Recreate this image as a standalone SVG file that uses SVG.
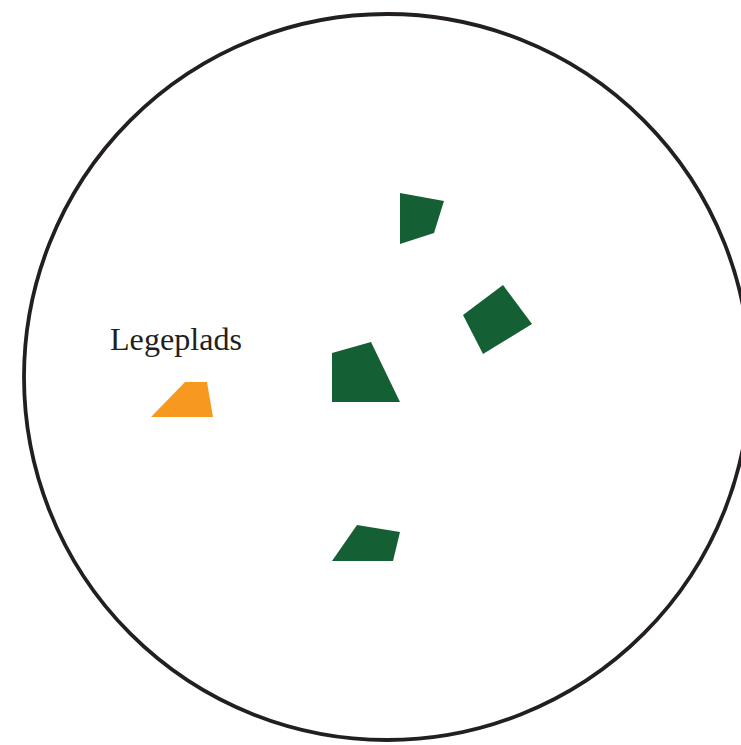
<svg xmlns="http://www.w3.org/2000/svg" width="741" height="745" viewBox="0 0 741 745">
  <style>
    .green { fill: #155f34; }
    .orange { fill: #f7991f; }
    .label { font-family: "Liberation Serif", "DejaVu Serif", serif; font-size: 31px; fill: #231f20; }
  </style>
  <rect width="741" height="745" fill="#ffffff"/>
  <g id="boundary">
    <circle cx="387" cy="377" r="363" fill="none" stroke="#231f20" stroke-width="3.8"/>
  </g>
  <g id="tree1"><polygon class="green" points="400,193 444,201 434,233 400,244"/></g>
  <g id="tree2"><polygon class="green" points="503,285 532,324 483,354 463,315"/></g>
  <g id="tree3"><polygon class="green" points="332,353 371,342 400,402 332,402"/></g>
  <g id="tree4"><polygon class="green" points="357,525 400,532 393,561 332,561"/></g>
  <g id="legeplads">
    <polygon class="orange" points="185,382 207,382 213,417 151,417"/>
    <text class="label" x="110" y="350" textLength="132" lengthAdjust="spacingAndGlyphs">Legeplads</text>
  </g>
  <g id="connectors"></g>
</svg>
